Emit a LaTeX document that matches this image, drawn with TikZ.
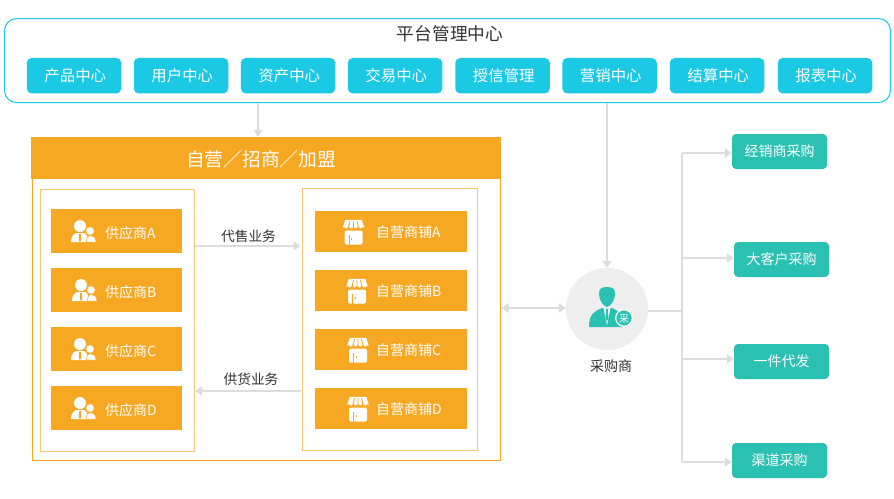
\documentclass[tikz,border=0pt]{standalone}
\usepackage{fontspec}
\setmainfont{Noto Sans CJK SC}
\usetikzlibrary{arrows.meta}
\definecolor{cy}{HTML}{1CC9E4}
\definecolor{org}{HTML}{F7A823}
\definecolor{orgl}{HTML}{FBC876}
\definecolor{teal}{HTML}{2BC1B2}
\definecolor{gr}{HTML}{DDDDDD}
\definecolor{circ}{HTML}{EEEEEE}
\definecolor{tx}{HTML}{333333}
\tikzset{
 tabbox/.style={fill=cy,rounded corners=5,minimum width=94.5,minimum height=35.5,inner sep=0,text=white,font=\fontsize{15.4}{15}\selectfont},
 orgbox/.style={fill=org,minimum height=44,inner sep=0},
 shopbox/.style={fill=org,minimum height=41,inner sep=0},
 lbl/.style={text=white,font=\fontsize{14}{14}\selectfont,inner sep=0},
 tealbox/.style={fill=teal,rounded corners=4,minimum width=95,minimum height=35,inner sep=0,text=white,font=\fontsize{14}{14}\selectfont},
 conn/.style={draw=gr,line width=1.8,-{Triangle[width=9,length=7]}},
 plainconn/.style={draw=gr,line width=1.8},
 captxt/.style={text=tx,font=\fontsize{14}{14}\selectfont,inner sep=0},
 people/.pic={
  \fill[white] (-4,-6) circle (6);
  \fill[white] (-13,10) .. controls (-13,3) and (-9,1) .. (-7,1) -- (-1,1) .. controls (2,1) and (4,4) .. (4,10) -- cycle;
  \fill[org] (-4.8,2) -- (-3.2,2) -- (-2.8,8) -- (-4,10) -- (-5.2,8) -- cycle;
  \fill[white,draw=org,line width=.5] (6,-1) circle (4.3);
  \fill[white,draw=org,line width=.5] (2.5,10) .. controls (2.5,5) and (4,3.5) .. (6,3.5) .. controls (9,3.5) and (12,5) .. (12,10) -- cycle;
 },
 shop/.pic={
  \fill[white,rounded corners=1.5] (-9,-1) rectangle (9,13);
  \fill[org] (-4.6,3) rectangle (-3.8,13);
  \fill[org] (-2.2,6) rectangle (-1.4,8);
  \fill[white,draw=org,line width=.5] (-8.5,-12) -- (8.5,-12) -- (12,-1.5) arc (0:-180:2.4) arc (0:-180:2.4) arc (0:-180:2.4) arc (0:-180:2.4) arc (0:-180:2.4) -- cycle;
  \foreach \a/\b in {-3.5/-5,0/0,3.5/5}{\fill[org] (\a-.4,-10.5) -- (\a+.4,-10.5) -- (\b+.5,-3.5) -- (\b-.5,-3.5) -- cycle;}
 },
 buyer/.pic={
  \fill[teal] (0,-22) .. controls (6,-22) and (8,-20) .. (8,-15) .. controls (8,-9) and (4,-3) .. (0,-2) .. controls (-4,-3) and (-8,-9) .. (-8,-15) .. controls (-8,-20) and (-6,-22) .. (0,-22) -- cycle;
  \fill[teal] (-18,18) .. controls (-18,6) and (-14,3) .. (-5,-1) -- (5,-1) .. controls (10,1) and (15,3) .. (15,18) -- cycle;
  \fill[white] (-3.5,-1) -- (0,16) -- (3.5,-1) -- cycle;
  \fill[teal] (-1.3,-.5) -- (1.3,-.5) -- (.8,2.5) -- (1.5,8) -- (0,13) -- (-1.5,8) -- (-.8,2.5) -- cycle;
  \fill[teal,draw=white,line width=1.2] (17,9) circle (8.3);
 }
}
\begin{document}
\begin{tikzpicture}[x=1pt,y=-1pt]
\useasboundingbox (0,0) rectangle (894,498);
\fill[white] (0,0) rectangle (894,498);
% platform
\node[draw=cy,line width=1,rounded corners=12,minimum width=886,minimum height=84,inner sep=0] (platform) at (447.5,60.5) {};
\node[text=tx,font=\fontsize{17.7}{18}\selectfont,inner sep=0] (ptitle) at (450,34) {平台管理中心};
\foreach \n/\x/\t in {t1/74/产品中心,t2/181/用户中心,t3/288/资产中心,t4/395/交易中心,t5/502.5/授信管理,t6/609.5/营销中心,t7/717/结算中心,t8/825/报表中心}{
 \node[tabbox] (\n) at (\x,75.7) {\hspace{2.5pt}\raisebox{2pt}{\t}};
}
% container
\node[draw=org,line width=1,minimum width=468,minimum height=323.5,inner sep=0] (outer) at (266,299) {};
\node[fill=org,minimum width=470,minimum height=42,inner sep=0] (hdr) at (266,158) {};
\node[text=white,font=\fontsize{18.75}{19}\selectfont,inner sep=0] (hdrl) at (261,159) {自营／招商／加盟};
\node[draw=orgl,line width=1,minimum width=154,minimum height=262,inner sep=0] (leftb) at (117.5,320) {};
\node[draw=orgl,line width=1,minimum width=174.5,minimum height=262,inner sep=0] (rightb) at (389.8,319) {};
\foreach \n/\y/\t/\ix in {s1/231/A/84,s2/290/B/85,s3/349/C/84,s4/408/D/84}{
 \node[orgbox,minimum width=131] (\n) at (116.5,\y) {};
 \pic at (\ix,\y+1) {people};
 \node[lbl,anchor=west] (\n l) at (105,\y+2.5) {供应商\t};
}
\foreach \n/\y/\t/\ix in {m1/231.5/A/353.5,m2/290.5/B/357,m3/349.5/C/358,m4/408.5/D/358}{
 \node[shopbox,minimum width=152] (\n) at (391,\y) {};
 \pic at (\ix,\y) {shop};
 \node[lbl,anchor=west] (\n l) at (376,\y+1) {自营商铺\t};
}
% middle arrows
\coordinate (a1s) at (194.5,246); \coordinate (a1e) at (300.5,246);
\coordinate (a2s) at (301,391); \coordinate (a2e) at (195,391);
\draw[conn] (a1s) -- (a1e);
\draw[conn] (a2s) -- (a2e);
\node[captxt,font=\fontsize{13.7}{14}\selectfont] (cap1) at (248.5,236.5) {代售业务};
\node[captxt,font=\fontsize{13.7}{14}\selectfont] (cap2) at (251,379.5) {供货业务};
% buyer
\node[circle,fill=circ,minimum size=82,inner sep=0] (buyerc) at (607,309) {};
\pic at (607,309) {buyer};
\node[text=white,font=\fontsize{10}{10}\selectfont,inner sep=0] (badge) at (624,318.3) {采};
\node[captxt] (buyerl) at (611,366.5) {采购商};
% connectors
\coordinate (p3) at (258,102.5);
\draw[conn] (p3) -- (p3 |- hdr.north);
\coordinate (p6) at (607,102.5);
\draw[conn] (p6) -- (buyerc.north);
\coordinate (bj) at (501.5,308);
\draw[draw=gr,line width=1.8,{Triangle[width=9,length=7]}-{Triangle[width=9,length=7]}] (bj) -- (buyerc.west |- bj);
% right
\node[tealbox] (r1) at (779.5,151.5) {\raisebox{-1.4pt}{经销商采购}};
\node[tealbox] (r2) at (781.5,259.5) {\raisebox{-1.4pt}{大客户采购}};
\node[tealbox] (r3) at (781.5,361.5) {\raisebox{-1.4pt}{一件代发}};
\node[tealbox] (r4) at (779.5,460.5) {\raisebox{-1.4pt}{渠道采购}};
\coordinate (j) at (682,311);
\coordinate (j1) at (682,153); \coordinate (j2) at (682,258); \coordinate (j3) at (682,359); \coordinate (j4) at (682,462);
\draw[plainconn] (buyerc.east |- j) -- (j);
\draw[plainconn] (j1) -- (j4);
\draw[conn] (j1) -- (r1.west |- j1);
\draw[conn] (j2) -- (r2.west |- j2);
\draw[conn] (j3) -- (r3.west |- j3);
\draw[conn] (j4) -- (r4.west |- j4);
\end{tikzpicture}
\end{document}
